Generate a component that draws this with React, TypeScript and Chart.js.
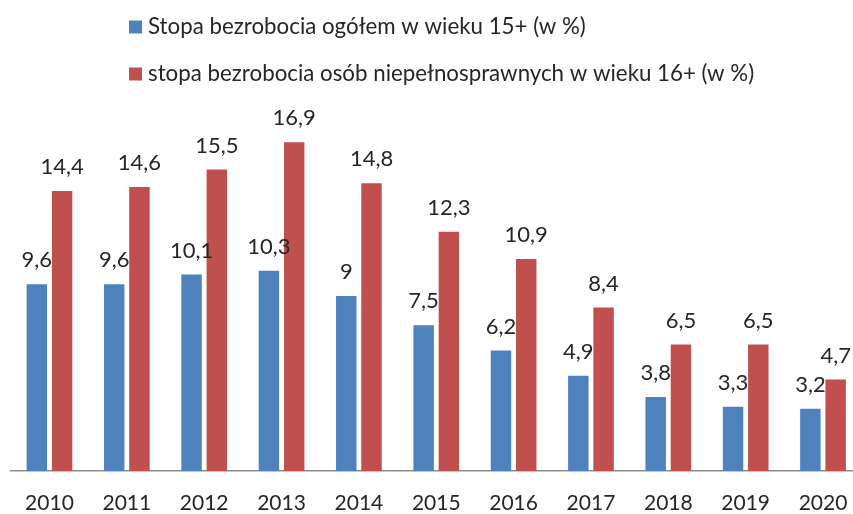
import React, { useEffect, useRef } from "react";
import { Chart, registerables } from "chart.js";

Chart.register(...registerables);

const years = ["2010", "2011", "2012", "2013", "2014", "2015", "2016", "2017", "2018", "2019", "2020"];
const totalRate = [9.6, 9.6, 10.1, 10.3, 9, 7.5, 6.2, 4.9, 3.8, 3.3, 3.2];
const disabledRate = [14.4, 14.6, 15.5, 16.9, 14.8, 12.3, 10.9, 8.4, 6.5, 6.5, 4.7];
const seriesLabels = [
  "Stopa bezrobocia ogółem w wieku 15+ (w %)",
  "stopa bezrobocia osób niepełnosprawnych w wieku 16+ (w %)",
];
const seriesColors = ["#4F81BD", "#C0504D"];

const FONT = "Lato, 'Open Sans', sans-serif";
const TEXT = "#262626";

const fmt = (v: number) => String(v).replace(".", ",");

const valueLabels = {
  id: "valueLabels",
  afterDatasetsDraw(chart: any) {
    const ctx = chart.ctx;
    ctx.save();
    ctx.font = `22px ${FONT}`;
    ctx.fillStyle = TEXT;
    ctx.textAlign = "center";
    ctx.textBaseline = "middle";
    chart.data.datasets.forEach((ds: any, di: number) => {
      const meta = chart.getDatasetMeta(di);
      meta.data.forEach((el: any, i: number) => {
        ctx.fillText(fmt(ds.data[i]), el.x, el.y - 24);
      });
    });
    ctx.restore();
  },
};

const topLegend = {
  id: "topLegend",
  afterDraw(chart: any) {
    const ctx = chart.ctx;
    ctx.save();
    ctx.font = `22.3px ${FONT}`;
    ctx.textBaseline = "middle";
    ctx.textAlign = "left";
    const rows = [27, 74];
    chart.data.datasets.forEach((ds: any, di: number) => {
      const y = rows[di];
      ctx.fillStyle = ds.backgroundColor;
      ctx.fillRect(129, y - 6.5, 13, 13);
      ctx.fillStyle = TEXT;
      ctx.fillText(ds.label, 148, y);
    });
    ctx.restore();
  },
};

export default function App() {
  const ref = useRef<HTMLCanvasElement>(null);
  useEffect(() => {
    if (!ref.current) return;
    const chart = new Chart(ref.current, {
      type: "bar",
      data: {
        labels: years,
        datasets: [
          { label: seriesLabels[0], data: totalRate, backgroundColor: seriesColors[0] },
          { label: seriesLabels[1], data: disabledRate, backgroundColor: seriesColors[1] },
        ],
      },
      options: {
        animation: false,
        responsive: false,
        devicePixelRatio: 1,
        layout: { padding: { left: 10.8, right: 8.3, top: 120.9, bottom: 0 } },
        datasets: { bar: { categoryPercentage: 0.653, barPercentage: 0.81 } },
        plugins: { legend: { display: false }, tooltip: { enabled: false } },
        scales: {
          x: {
            offset: true,
            grid: { display: false, drawTicks: false },
            border: { display: true, color: "#8c8c8c", width: 1.5 },
            ticks: { font: { family: FONT, size: 21 }, color: TEXT, padding: 20, maxRotation: 0 },
            afterFit: (s: any) => {
              s.height = 43;
            },
          },
          y: { display: false, min: 0, max: 18 },
        },
      },
      plugins: [valueLabels, topLegend],
    });
    return () => chart.destroy();
  }, []);
  return (
    <div style={{ position: "fixed", left: 0, top: 0, width: 853, height: 514, overflow: "hidden", background: "#fff" }}>
      <canvas ref={ref} width={870} height={514} style={{ display: "block" }} />
    </div>
  );
}
